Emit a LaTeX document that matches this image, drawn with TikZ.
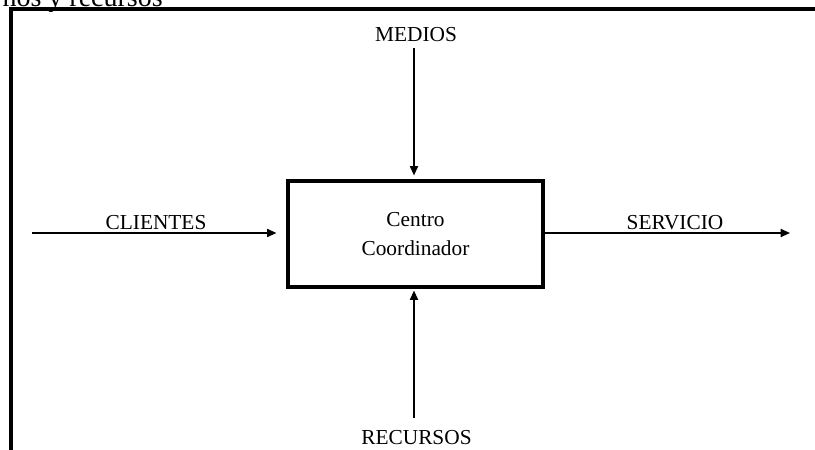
\documentclass[tikz,border=0pt]{standalone}
\usepackage{fontspec}
\setmainfont{Liberation Serif}
\usetikzlibrary{arrows.meta}
\begin{document}
\begin{tikzpicture}[x=0.75pt,y=-0.75pt,
  frameline/.style={line width=2.3pt},
  flow/.style={line width=1.3pt,-{Triangle[length=7pt,width=6pt]}},
  lbl/.style={font=\fontsize{16}{19}\selectfont, inner sep=0pt},
  centerbox/.style={draw,line width=2.3pt,minimum width=191.25pt,minimum height=79.5pt,
    align=center,font=\fontsize{16}{21.75}\selectfont,inner sep=0pt}]
\useasboundingbox (0,0) rectangle (815,450);
\clip (0,0) rectangle (815,450);
% clipped caption at the top
\node[anchor=base east, inner sep=0pt, font=\fontsize{21}{24}\selectfont] (cap) at (163,6) {nos y recursos};
% frame
\coordinate (fbl) at (11,452);
\coordinate (ftl) at (11,9);
\coordinate (ftr) at (817,9);
\draw[frameline] (fbl) -- (ftl) -- (ftr);
% central box
\node[centerbox] (box) at (415.5,234) {Centro\\Coordinador};
% end points
\coordinate (cl) at (32,233);
\coordinate (sv) at (790,233);
\coordinate (md) at (414,48);
\coordinate (rc) at (414,418);
% connectors
\draw[flow,shorten >=7.5pt] (cl) -- (cl -| box.west);
\draw[flow] (sv -| box.east) -- (sv);
\draw[flow,shorten >=3pt] (md) -- (md |- box.north);
\draw[flow,shorten >=1.5pt] (rc) -- (rc |- box.south);
% labels
\node[lbl, anchor=base] (lcl) at (156,229) {CLIENTES};
\node[lbl, anchor=base] (lsv) at (675,229) {SERVICIO};
\node[lbl, anchor=base] (lmd) at (416,41) {MEDIOS};
\node[lbl, anchor=base] (lrc) at (416.5,444) {RECURSOS};
\end{tikzpicture}
\end{document}
